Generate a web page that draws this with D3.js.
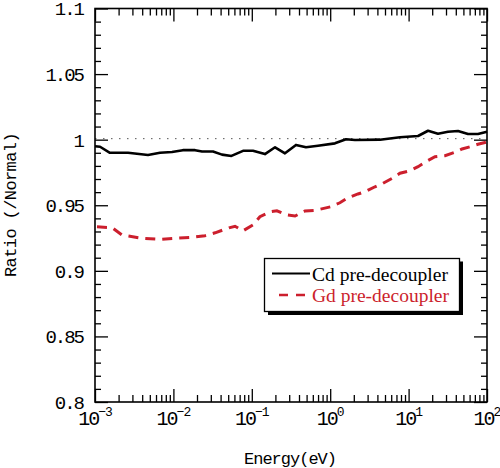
<!DOCTYPE html>
<html><head><meta charset="utf-8">
<script src="https://cdn.jsdelivr.net/npm/d3@7"></script>
<style>
html,body{margin:0;padding:0;background:#fff;}
svg{display:block;}
.mono{font-family:"Liberation Mono","DejaVu Sans Mono",monospace;}
</style></head>
<body><svg id="c" width="500" height="468"></svg>
<script>
// ---- data ----
const energyCd = [1e-3,1.16e-3,1.55e-3,2.64e-3,4.74e-3,6.75e-3,9.6e-3,1.32e-2,1.89e-2,2.32e-2,3.2e-2,4.17e-2,5.5e-2,7.73e-2,0.1035,0.147,0.198,0.265,0.366,0.491,0.698,1.15,1.59,2.07,4.32,7.76,13.2,17.7,23.7,31.8,42.7,57.3,76.7,100];
const ratioCd  = [0.995,0.9946,0.990,0.990,0.9883,0.990,0.9906,0.992,0.992,0.991,0.991,0.9886,0.9876,0.9915,0.9915,0.989,0.9942,0.9896,0.996,0.9942,0.9954,0.9972,1.0003,0.9998,1.0,1.0018,1.0028,1.0068,1.0045,1.006,1.0066,1.0043,1.0043,1.006];
const energyGd = [1e-3,1.65e-3,2.21e-3,3.97e-3,6.75e-3,1.15e-2,1.73e-2,2.53e-2,3.4e-2,5.12e-2,6.1e-2,7.73e-2,0.1035,0.127,0.171,0.209,0.281,0.356,0.477,0.659,1.02,1.33,1.64,2.26,2.78,3.73,4.71,6.14,7.76,10.4,13.2,17.2,21.7,29.1,39.1,48.0,60.7,76.7,97];
const ratioGd  = [0.9336,0.9329,0.9273,0.9248,0.924,0.925,0.9256,0.9268,0.929,0.9328,0.934,0.9305,0.935,0.9413,0.945,0.9458,0.9426,0.9418,0.9456,0.9462,0.9489,0.9519,0.9553,0.9586,0.9603,0.9641,0.9667,0.9705,0.9744,0.9763,0.9794,0.9837,0.987,0.9878,0.9904,0.9929,0.9946,0.9965,0.998];
const yTicks = [0.8,0.85,0.9,0.95,1,1.05,1.1];
const yTickLabels = ["0.8","0.85","0.9","0.95","1","1.05","1.1"];
const xTicks = [1e-3,1e-2,1e-1,1,10,100];
const xTickExps = ["−3","−2","−1","0","1","2"];
const seriesNames = ["Cd pre-decoupler","Gd pre-decoupler"];
const xLabel = "Energy(eV)";
const yLabel = "Ratio (/Normal)";

// ---- layout ----
const L=95,R=487,T=8.5,B=402;
const svg=d3.select("#c");
const x=d3.scaleLog().domain([1e-3,100]).range([L,R]);
const y=d3.scaleLinear().domain([0.8,1.1]).range([B,T]);

const minorX=[];
for(let e=-3;e<2;e++) for(let k=2;k<=9;k++) minorX.push(k*Math.pow(10,e));
const minorY=d3.range(80,111).map(v=>v/100).filter(v=>Math.round(v*100)%5!==0);

function styleAxis(g){ g.select(".domain").remove(); g.selectAll("line").attr("stroke","#000").attr("stroke-width",1.3); g.selectAll("text").remove(); }

// ticks (inward on all four sides)
svg.append("g").attr("transform",`translate(0,${B})`).call(d3.axisBottom(x).tickValues(xTicks).tickSize(-13)).call(styleAxis);
svg.append("g").attr("transform",`translate(0,${B})`).call(d3.axisBottom(x).tickValues(minorX).tickSize(-7)).call(styleAxis);
svg.append("g").attr("transform",`translate(0,${T})`).call(d3.axisTop(x).tickValues(xTicks).tickSize(-13)).call(styleAxis);
svg.append("g").attr("transform",`translate(0,${T})`).call(d3.axisTop(x).tickValues(minorX).tickSize(-7)).call(styleAxis);
svg.append("g").attr("transform",`translate(${L},0)`).call(d3.axisLeft(y).tickValues(yTicks).tickSize(-13)).call(styleAxis);
svg.append("g").attr("transform",`translate(${L},0)`).call(d3.axisLeft(y).tickValues(minorY).tickSize(-6)).call(styleAxis);
svg.append("g").attr("transform",`translate(${R},0)`).call(d3.axisRight(y).tickValues(yTicks).tickSize(-13)).call(styleAxis);
svg.append("g").attr("transform",`translate(${R},0)`).call(d3.axisRight(y).tickValues(minorY).tickSize(-6)).call(styleAxis);

// reference dotted line at 1
svg.append("line").attr("x1",L).attr("x2",R).attr("y1",y(1)-1).attr("y2",y(1)-1)
  .attr("stroke","#555").attr("stroke-width",1).attr("stroke-dasharray","1.5,6.5");

// curves
const line=d3.line().x(d=>x(d[0])).y(d=>y(d[1]));
svg.append("path").datum(energyCd.map((e,i)=>[e,ratioCd[i]])).attr("d",line)
  .attr("fill","none").attr("stroke","#000").attr("stroke-width",2.6).attr("stroke-linejoin","round");
svg.append("path").datum(energyGd.map((e,i)=>[e,ratioGd[i]])).attr("d",line)
  .attr("fill","none").attr("stroke","#cc1f2d").attr("stroke-width",3).attr("stroke-dasharray","10,7").attr("stroke-dashoffset",-2);

// frame
svg.append("rect").attr("x",L).attr("y",T).attr("width",R-L).attr("height",B-T)
  .attr("fill","none").attr("stroke","#000").attr("stroke-width",1.6);

// y tick labels
svg.append("g").selectAll("text").data(yTicks).join("text").attr("class","mono")
  .attr("x",83).attr("y",d=>y(d)).attr("dy","0.36em").attr("text-anchor","end")
  .attr("font-size",19).attr("letter-spacing","-2px").attr("fill","#000")
  .text((d,i)=>yTickLabels[i]);

// x tick labels with superscript
const xl=svg.append("g").selectAll("text").data(xTicks).join("text").attr("class","mono")
  .attr("x",d=>x(d)).attr("y",425).attr("text-anchor","middle").attr("fill","#000").attr("font-size",20).attr("letter-spacing","-2px");
xl.append("tspan").text("10");
xl.append("tspan").attr("dy",-9).attr("font-size",13).attr("letter-spacing","-1px").text((d,i)=>xTickExps[i]);

// axis titles
svg.append("text").attr("class","mono").attr("x",290).attr("y",464).attr("text-anchor","middle")
  .attr("font-size",17).attr("letter-spacing","-1px").attr("fill","#000").text(xLabel);
svg.append("text").attr("class","mono").attr("transform","translate(16,205) rotate(-90)").attr("text-anchor","middle")
  .attr("font-size",17).attr("letter-spacing","-0.6px").attr("fill","#000").text(yLabel);

// legend
const lg=svg.append("g");
lg.append("rect").attr("x",268).attr("y",261.5).attr("width",195).attr("height",53.5).attr("fill","#000");
lg.append("rect").attr("x",264.5).attr("y",258.5).attr("width",195).attr("height",53).attr("fill","#fff").attr("stroke","#000").attr("stroke-width",1.3);
const colors=["#000","#cc1f2d"];
const ly=[273.5,295];
lg.selectAll("line.s").data(seriesNames).join("line").attr("class","s")
  .attr("x1",(d,i)=>i?279:272).attr("x2",310).attr("y1",(d,i)=>ly[i]).attr("y2",(d,i)=>ly[i])
  .attr("stroke",(d,i)=>colors[i]).attr("stroke-width",(d,i)=>i?2.4:2)
  .attr("stroke-dasharray",(d,i)=>i?"9,8":null);
lg.selectAll("text").data(seriesNames).join("text")
  .attr("x",312).attr("y",(d,i)=>ly[i]+7).attr("font-family","'Liberation Serif','Times New Roman',serif")
  .attr("font-size",19.5).attr("fill",(d,i)=>colors[i]).text(d=>d);
</script></body></html>
